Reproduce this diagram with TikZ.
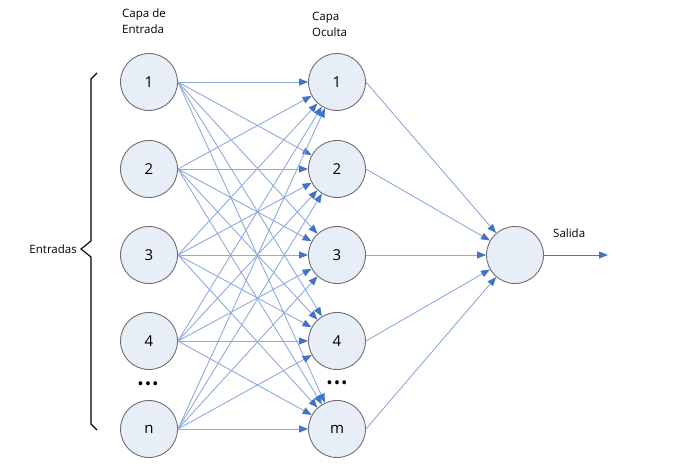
\documentclass[tikz,border=0pt]{standalone}
\usepackage{fontspec}
\setmainfont{Open Sans}
\usetikzlibrary{arrows.meta}
\definecolor{nodefill}{HTML}{E8EEF8}
\definecolor{nodeline}{HTML}{6E6E6E}
\definecolor{linkline}{HTML}{8EABDC}
\definecolor{tipblue}{HTML}{4472C4}
\begin{document}
\begin{tikzpicture}[x=1pt,y=-1pt,
  neuron/.style={circle,draw=nodeline,line width=0.9pt,fill=nodefill,
    minimum size=57pt,inner sep=0pt,font=\fontsize{15}{17}\selectfont},
  link/.style={draw=linkline,line width=0.9pt,
    -{Triangle[length=9pt,width=7pt,color=tipblue]}},
  label/.style={font=\fontsize{11.5}{16}\selectfont,inner sep=0pt},
  caption/.style={label,align=left,anchor=north west},
  dots/.style={font=\fontsize{13}{13}\selectfont\bfseries,inner sep=0pt}]
\useasboundingbox (0,0) rectangle (676,470);

% input layer
\node[neuron] (i1) at (149,82) {1};
\node[neuron] (i2) at (149,169) {2};
\node[neuron] (i3) at (149,255) {3};
\node[neuron] (i4) at (149,341) {4};
\node[neuron] (i5) at (149,429) {n};
% hidden layer
\node[neuron] (h1) at (337,82) {1};
\node[neuron] (h2) at (337,169) {2};
\node[neuron] (h3) at (337,255) {3};
\node[neuron] (h4) at (337,341) {4};
\node[neuron] (h5) at (337,429) {m};
% output neuron
\node[neuron] (o) at (515,255) {};
\coordinate (out) at (608,255);

% ellipsis dots
\node[dots] (di) at (148,385) {•\hspace{2.5pt}•\hspace{2.5pt}•};
\node[dots] (dh) at (337,384) {•\hspace{2.5pt}•\hspace{2.5pt}•};

% layer captions
\node[caption] (ci) at (122,9) {Capa de\\Entrada};
\node[caption] (ch) at (312,12) {Capa\\Oculta};
\node[label,anchor=east] (ent) at (77,249) {Entradas};
\node[label,anchor=west] (sal) at (553,233) {Salida};

% input -> hidden connections
\foreach \i in {1,...,5}{
  \foreach \h in {1,...,5}{
    \draw[link] (i\i.east) -- (h\h);
  }
}
% hidden -> output connections
\foreach \h in {1,...,5}{
  \draw[link] (h\h.east) -- (o);
}
% output arrow
\draw[draw=tipblue,line width=0.9pt,-{Triangle[length=9pt,width=7pt,color=tipblue]}] (o.east) -- (out);

% brace grouping the inputs
\draw[line width=1.1pt] (97,73) -- (91,79) -- (91,241) -- (81,249) -- (91,257) -- (91,424) -- (97,430);
\end{tikzpicture}
\end{document}
